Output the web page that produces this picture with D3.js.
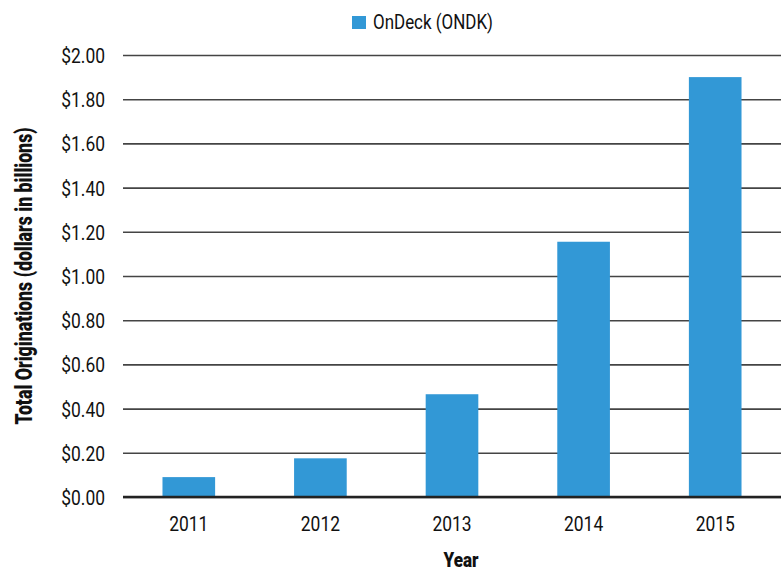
<!DOCTYPE html>
<html>
<head>
<meta charset="utf-8">
<script src="https://cdn.jsdelivr.net/npm/d3@7"></script>
<style>
  html, body { margin: 0; padding: 0; background: #fff; }
  svg { display: block; }
  text { font-family: Roboto, "Liberation Sans", sans-serif; fill: #111; }
</style>
</head>
<body>
<svg id="chart" width="784" height="571"></svg>
<script>
const years = ["2011", "2012", "2013", "2014", "2015"];
const originations = [0.09, 0.175, 0.465, 1.155, 1.90];
const yTicks = [0, 0.2, 0.4, 0.6, 0.8, 1.0, 1.2, 1.4, 1.6, 1.8, 2.0];
const seriesName = "OnDeck (ONDK)";
const yTitle = "Total Originations (dollars in billions)";
const xTitle = "Year";

const W = 784, H = 571;
const m = { left: 123, right: 3, top: 55, bottom: 74 };
const SX = 0.83; // horizontal condensing of the font
const svg = d3.select("#chart");

const x = d3.scaleBand().domain(years).range([m.left, W - m.right])
  .paddingInner(0.6).paddingOuter(0.3);
const y = d3.scaleLinear().domain([0, 2]).range([H - m.bottom, m.top]);

// gridlines + y tick labels
const yAxis = d3.axisLeft(y).tickValues(yTicks)
  .tickSize(-(W - m.left - m.right)).tickPadding(18)
  .tickFormat(d => "$" + d3.format(".2f")(d));
const gy = svg.append("g").attr("transform", `translate(${m.left},0)`).call(yAxis);
gy.select(".domain").remove();
gy.selectAll(".tick line").attr("stroke", "#444").attr("stroke-width", 1.6);
gy.selectAll(".tick text")
  .attr("font-size", 21).attr("fill", "#111").attr("dy", "0.36em")
  .attr("x", -18 / SX).attr("transform", `scale(${SX},1)`);

// bars
svg.append("g").selectAll("rect").data(years).join("rect")
  .attr("x", d => x(d))
  .attr("width", x.bandwidth())
  .attr("y", (d, i) => y(originations[i]))
  .attr("height", (d, i) => y(0) - y(originations[i]))
  .attr("fill", "#3298d6");

// zero baseline
svg.append("line")
  .attr("x1", m.left).attr("x2", W - m.right)
  .attr("y1", y(0)).attr("y2", y(0))
  .attr("stroke", "#222").attr("stroke-width", 2.6);

// x axis labels
const xAxis = d3.axisBottom(x).tickSize(0).tickPadding(19);
const gx = svg.append("g").attr("transform", `translate(0,${y(0)})`).call(xAxis);
gx.select(".domain").remove();
gx.selectAll(".tick text")
  .attr("font-size", 21).attr("fill", "#111")
  .attr("transform", `scale(${SX},1)`);

// axis titles
svg.append("text")
  .attr("x", 461).attr("y", 567)
  .attr("text-anchor", "middle")
  .attr("font-size", 21).attr("font-weight", 900)
  .attr("textLength", 35).attr("lengthAdjust", "spacingAndGlyphs")
  .text(xTitle);

svg.append("text")
  .attr("transform", `translate(31.5,${(y(0) + y(2)) / 2}) rotate(-90)`)
  .attr("text-anchor", "middle")
  .attr("font-size", 23).attr("font-weight", 900)
  .attr("textLength", 297).attr("lengthAdjust", "spacingAndGlyphs")
  .text(yTitle);

// legend
const lg = svg.append("g");
lg.append("rect").attr("x", 352).attr("y", 16).attr("width", 14).attr("height", 13).attr("fill", "#3298d6");
lg.append("text").attr("x", 373).attr("y", 29).attr("font-size", 20)
  .attr("textLength", 120).attr("lengthAdjust", "spacingAndGlyphs")
  .text(seriesName);
</script>
</body>
</html>
